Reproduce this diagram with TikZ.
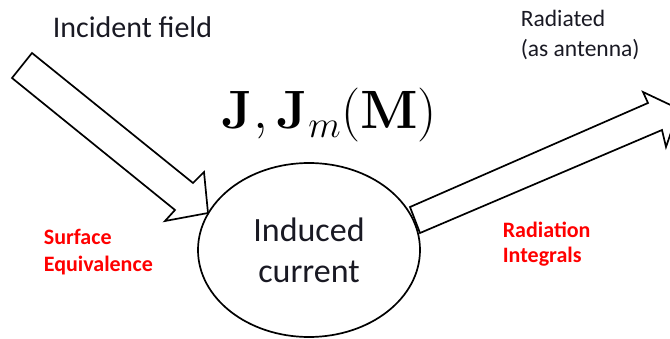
\RequirePackage{fix-cm}
\documentclass[tikz,border=0pt]{standalone}
\usepackage[no-math]{fontspec}
\setmainfont{Carlito}
\usetikzlibrary{shapes.geometric}
\definecolor{ink}{RGB}{25,25,35}
\definecolor{hot}{RGB}{255,0,0}
\begin{document}
\begin{tikzpicture}[x=1pt,y=-1pt,line join=miter,line width=1.7pt,
    lbl/.style={anchor=base west,inner sep=0pt,align=left,text=ink},
    redlbl/.style={lbl,text=hot,font=\bfseries\fontsize{22}{27}\selectfont}]
  \useasboundingbox (0,0) rectangle (670,339);
  \begin{scope}
    \clip (0,0) rectangle (670,339);
    \draw[fill=white] (32,53)--(193,183)--(204,172)--(208,213)--(165,221)--(175,210)--(12,78)--cycle;
    \draw[fill=white] (410,207)--(648,103)--(643,92)--(679,109)--(666,147)--(662,130)--(420,233)--cycle;
  \end{scope}
  \node[draw,ellipse,minimum width=222pt,minimum height=174pt,inner sep=0pt,align=center,
    text=ink,font=\fontsize{34}{41}\selectfont] (cur) at (309,250) {Induced\\current};
  \node[lbl,font=\fontsize{30}{36}\selectfont] (inc) at (52,38) {Incident field};
  % multi-line nodes: base is the last line
  \node[lbl,font=\fontsize{23.5}{30}\selectfont] (rad) at (520,57) {Radiated\\(as antenna)};
  \node[redlbl] (surf) at (43,272) {Surface\\Equivalence};
  \node[redlbl,font=\bfseries\fontsize{22}{25}\selectfont] (rint) at (502,263) {Radiation\\Integrals};
  \node[lbl,text=black,font=\fontsize{54}{60}\selectfont] (jm) at (221,129) {$\mathbf{J},\mathbf{J}_m(\mathbf{M})$};
\end{tikzpicture}
\end{document}
